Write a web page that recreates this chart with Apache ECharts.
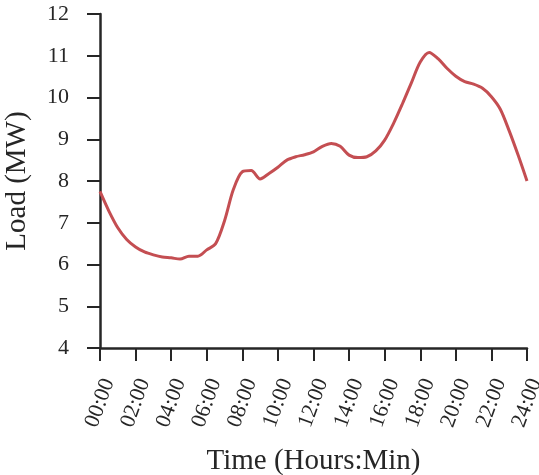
<!DOCTYPE html>
<html>
<head>
<meta charset="utf-8">
<script src="https://cdn.jsdelivr.net/npm/echarts@6/dist/echarts.min.js"></script>
<style>html,body{margin:0;padding:0;background:#fff}#c{width:539px;height:475px}</style>
</head>
<body>
<div id="c"></div>
<script>
const hours = [0,0.5,1,1.5,2,2.5,3,3.5,4,4.5,5,5.5,6,6.5,7,7.5,8,8.5,9,9.5,10,10.5,11,11.5,12,12.5,13,13.5,14,14.5,15,15.5,16,16.5,17,17.5,18,18.5,19,19.5,20,20.5,21,21.5,22,22.5,23,23.5,24];
const load = [7.75,7.28,6.88,6.60,6.42,6.30,6.23,6.18,6.16,6.13,6.20,6.20,6.35,6.50,7.05,7.80,8.22,8.25,8.05,8.18,8.33,8.50,8.58,8.63,8.70,8.83,8.90,8.83,8.62,8.56,8.58,8.72,8.98,9.38,9.85,10.35,10.85,11.08,10.93,10.70,10.51,10.38,10.32,10.22,10.02,9.72,9.20,8.62,8.00];
const xTickLabels = ['00:00','02:00','04:00','06:00','08:00','10:00','12:00','14:00','16:00','18:00','20:00','22:00','24:00'];
const yTicks = [4,5,6,7,8,9,10,11,12];

const font = 'Liberation Serif';
const ink = '#262626';
const chart = echarts.init(document.getElementById('c'), null, {renderer:'canvas'});
chart.setOption({
  animation:false,
  grid:{left:100,right:12,top:14,bottom:127,containLabel:false,outerBoundsMode:'none'},
  xAxis:{
    type:'value',min:0,max:24,interval:2,
    name:'Time (Hours:Min)',nameLocation:'middle',nameGap:99,
    nameTextStyle:{fontFamily:font,fontSize:29,color:ink},
    axisLine:{show:true,lineStyle:{color:ink,width:2.5}},
    axisTick:{show:true,length:13,lineStyle:{color:ink,width:2}},
    axisLabel:{rotate:70,align:'center',verticalAlign:'middle',fontFamily:font,fontSize:22,color:ink,margin:55,
      formatter:(v)=>xTickLabels[Math.round(v/2)]},
    splitLine:{show:false}
  },
  yAxis:{
    type:'value',min:yTicks[0],max:yTicks[yTicks.length-1],interval:1,
    name:'Load (MW)',nameLocation:'middle',nameGap:68,nameRotate:90,
    nameTextStyle:{fontFamily:font,fontSize:29,color:ink},
    axisLine:{show:true,lineStyle:{color:ink,width:2.5}},
    axisTick:{show:true,length:13,lineStyle:{color:ink,width:2}},
    axisLabel:{fontFamily:font,fontSize:22,color:ink,margin:31},
    splitLine:{show:false}
  },
  series:[{
    type:'line',data:hours.map((h,i)=>[h,load[i]]),
    smooth:0.3,showSymbol:false,
    lineStyle:{color:'#c44e52',width:3}
  }]
});
</script>
</body>
</html>
